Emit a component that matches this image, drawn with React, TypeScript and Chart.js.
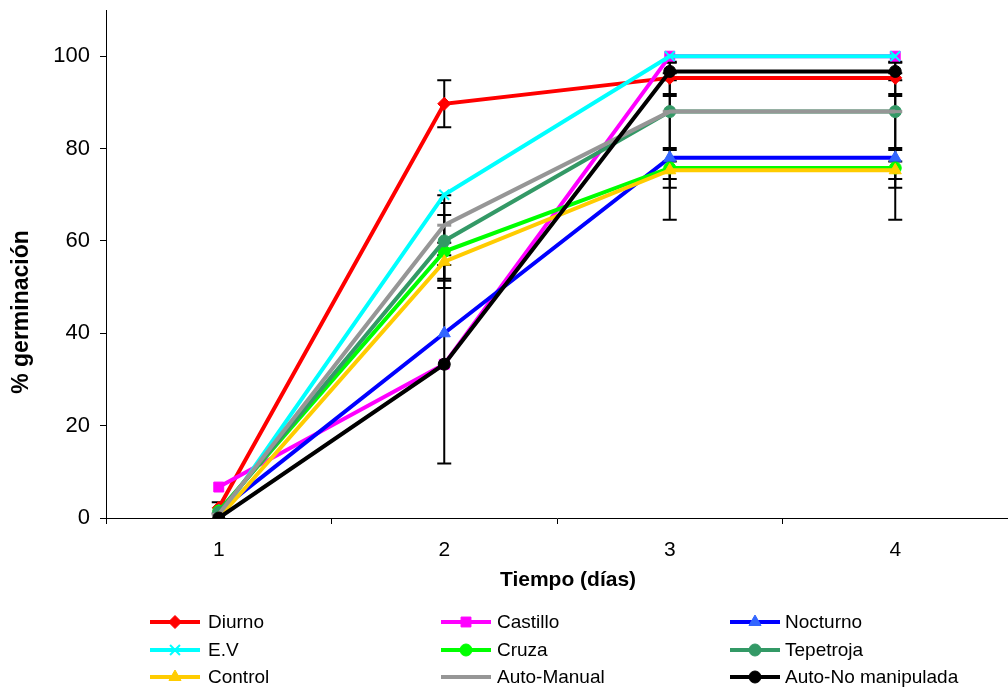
import React, { useEffect, useRef } from 'react';
import { Chart, registerables } from 'chart.js';
import { drawPoint } from 'chart.js/helpers';

Chart.register(...registerables);

// ---- data ----
const days = ['1', '2', '3', '4'];
const yTickValues = [0, 20, 40, 60, 80, 100];
const seriesNames = ['Diurno', 'Castillo', 'Nocturno', 'E.V', 'Cruza', 'Tepetroja', 'Control', 'Auto-Manual', 'Auto-No manipulada'];

const diurno = [2.2, 89.7, 95.3, 95.3];
const castillo = [6.7, 33.3, 100, 100];
const nocturno = [1.5, 40, 78, 78];
const ev = [0, 70, 100, 100];
const cruza = [1.5, 57.7, 75.8, 75.8];
const tepetroja = [1.2, 60, 88, 88];
const control = [0, 55.5, 75.3, 75.3];
const autoManual = [0.8, 63.4, 88, 88];
const autoNo = [0, 33.3, 96.7, 96.7];

const diurnoErr = [1.2, 5.1, 3.5, 3.5];
const castilloErr = [0, 0, 0, 0];
const nocturnoErr = [0, 0, 13.4, 13.4];
const evErr = [0, 0, 0, 0];
const cruzaErr = [0, 7.9, 4.3, 4.3];
const tepetrojaErr = [0, 8.2, 8.3, 8.3];
const controlErr = [0, 4.1, 1.9, 1.9];
const autoManualErr = [0, 6.5, 0, 0];
const autoNoErr = [0, 21.5, 1.9, 1.9];

const seriesValues = [diurno, castillo, nocturno, ev, cruza, tepetroja, control, autoManual, autoNo];
const seriesErrors = [diurnoErr, castilloErr, nocturnoErr, evErr, cruzaErr, tepetrojaErr, controlErr, autoManualErr, autoNoErr];

// ---- styles ----
const lineColors = ['#FF0000', '#FF00FF', '#0000FF', '#00FFFF', '#00FF00', '#339966', '#FFCC00', '#969696', '#000000'];
const markerColors = ['#FF0000', '#FF00FF', '#3366FF', '#00FFFF', '#00FF00', '#339966', '#FFCC00', '#969696', '#000000'];
const markerStyles = ['rectRot', 'rect', 'triangle', 'crossRot', 'circle', 'circle', 'triangle', 'line', 'circle'];
const markerRadii = [6.5, 7, 7, 7, 6, 6, 7, 7, 6];
const markerBorders = [1, 1, 1, 2, 1, 1, 1, 3, 1];

const FONT = "'Liberation Sans', Arial, sans-serif";

const errorBarsPlugin = {
  id: 'errorBars',
  beforeDatasetsDraw(chart: any) {
    const { ctx } = chart;
    const xs = chart.scales.x;
    const ys = chart.scales.y;
    ctx.save();
    ctx.strokeStyle = '#000';
    ctx.lineWidth = 2;
    seriesValues.forEach((vals, i) => {
      const errs = seriesErrors[i];
      vals.forEach((v, j) => {
        const e = errs[j];
        if (!e) return;
        const x = xs.getPixelForValue(j);
        const yTop = ys.getPixelForValue(v + e);
        const yBot = ys.getPixelForValue(Math.max(0, v - e));
        ctx.beginPath();
        ctx.moveTo(x, yTop);
        ctx.lineTo(x, yBot);
        ctx.moveTo(x - 7, yTop);
        ctx.lineTo(x + 7, yTop);
        ctx.moveTo(x - 7, yBot);
        ctx.lineTo(x + 7, yBot);
        ctx.stroke();
      });
    });
    ctx.restore();
  },
};

const legendAndTitlesPlugin = {
  id: 'legendAndTitles',
  afterDraw(chart: any) {
    const { ctx } = chart;
    ctx.save();
    // axis titles
    ctx.fillStyle = '#000';
    ctx.textAlign = 'center';
    ctx.textBaseline = 'middle';
    ctx.font = `bold 21px ${FONT}`;
    ctx.fillText('Tiempo (días)', 568, 580);
    ctx.save();
    ctx.translate(22, 312);
    ctx.rotate(-Math.PI / 2);
    ctx.font = `bold 23px ${FONT}`;
    ctx.fillText('% germinación', 0, 0);
    ctx.restore();

    // legend
    const colLine = [150, 441, 730];
    const colText = [208, 497, 785];
    const rowY = [622, 650, 677];
    seriesNames.forEach((name, i) => {
      const col = i % 3;
      const row = Math.floor(i / 3);
      const y = rowY[row];
      const x0 = colLine[col];
      ctx.strokeStyle = lineColors[i];
      ctx.lineWidth = 4;
      ctx.beginPath();
      ctx.moveTo(x0, y);
      ctx.lineTo(x0 + 50, y);
      ctx.stroke();
      ctx.fillStyle = markerColors[i];
      ctx.strokeStyle = markerColors[i];
      ctx.lineWidth = markerBorders[i];
      drawPoint(ctx, { pointStyle: markerStyles[i], radius: markerRadii[i], rotation: 0, borderWidth: markerBorders[i] } as any, x0 + 25, y);
      ctx.fillStyle = '#000';
      ctx.textAlign = 'left';
      ctx.textBaseline = 'middle';
      ctx.font = `19px ${FONT}`;
      ctx.fillText(name, colText[col], y + 1);
    });
    ctx.restore();
  },
};

export default function App() {
  const canvasRef = useRef<HTMLCanvasElement | null>(null);

  useEffect(() => {
    if (!canvasRef.current) return;
    const datasets = seriesNames.map((name, i) => ({
      label: name,
      data: seriesValues[i],
      borderColor: lineColors[i],
      backgroundColor: markerColors[i],
      borderWidth: 4,
      pointStyle: markerStyles[i],
      pointRadius: markerRadii[i],
      pointHoverRadius: markerRadii[i],
      pointBackgroundColor: markerColors[i],
      pointBorderColor: markerColors[i],
      pointBorderWidth: markerBorders[i],
      tension: 0,
      fill: false,
      order: seriesNames.length - i,
    }));

    const chart = new Chart(canvasRef.current, {
      type: 'line',
      data: { labels: days, datasets },
      plugins: [errorBarsPlugin, legendAndTitlesPlugin],
      options: {
        animation: false,
        responsive: false,
        layout: { padding: { left: 0, top: 7, right: -2, bottom: 96 } },
        plugins: {
          legend: { display: false },
          tooltip: { enabled: false },
          title: { display: false },
        },
        scales: {
          x: {
            type: 'category',
            offset: true,
            grid: { offset: true, drawOnChartArea: false, drawTicks: true, tickLength: 6, color: '#000' },
            border: { display: true, color: '#000', width: 1 },
            ticks: { color: '#000', font: { family: FONT, size: 21 }, padding: 14, maxRotation: 0 },
            afterFit: (scale: any) => {
              scale.height = 78;
              scale.paddingLeft = 0;
              scale.paddingRight = 0;
            },
          },
          y: {
            min: 0,
            max: 110,
            afterBuildTicks: (scale: any) => { scale.ticks = yTickValues.map((v) => ({ value: v })); },
            grid: { drawOnChartArea: false, drawTicks: true, tickLength: 6, color: '#000' },
            border: { display: true, color: '#000', width: 1 },
            ticks: { color: '#000', font: { family: FONT, size: 22 }, padding: 10 },
            afterFit: (scale: any) => {
              scale.width = 106;
              scale.paddingTop = 0;
              scale.paddingBottom = 0;
            },
          },
        },
      },
    });
    return () => chart.destroy();
  }, []);

  return (
    <div style={{ position: 'absolute', left: 0, top: 0, width: 1008, height: 692, overflow: 'hidden', background: '#fff' }}>
      <div style={{ width: 1018, height: 692 }}>
        <canvas ref={canvasRef} width={1018} height={692} style={{ width: 1018, height: 692, display: 'block' }} />
      </div>
    </div>
  );
}
